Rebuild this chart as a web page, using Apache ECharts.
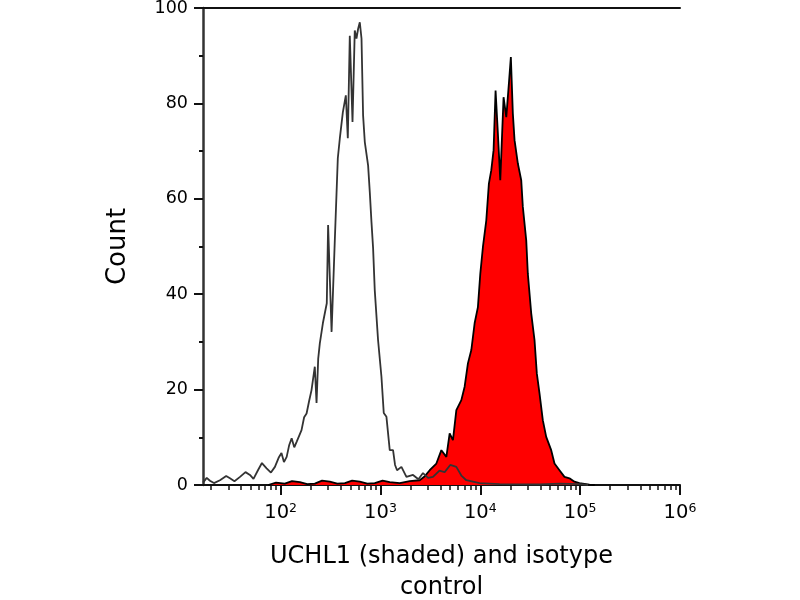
<!DOCTYPE html>
<html lang="en">
<head>
    <meta charset="UTF-8">
    <title>UCHL1 histogram</title>
    <script src="https://cdn.jsdelivr.net/npm/echarts@6/dist/echarts.min.js"></script>
</head>
<body style="margin:0">
<div id="echarts" style="width: 800px;height:600px"></div>
<script>
    var chartDom = document.getElementById('echarts');
    var myChart = echarts.init(chartDom);
    var option;

    // isotype control (outline only): [channel, count]
    var isotype = [
        [16.7, 0.5], [18.2, 1.5], [19.6, 0.9], [21.5, 0.4], [24.7, 1.0], [28.5, 1.9],
        [31.1, 1.4], [34.5, 0.8], [39.2, 1.7], [44.5, 2.7], [49.3, 2.1], [53.5, 1.3],
        [59.3, 3.1], [65, 4.6], [72.4, 3.5], [80, 2.6], [87.7, 3.8], [95.5, 5.7],
        [102, 6.7], [108, 4.8], [115, 5.9], [122, 8.4], [129, 9.8], [137, 7.9],
        [145, 9.1], [162, 11.5], [172, 14.2], [182, 15.0], [193, 17.6], [204, 19.9],
        [220, 24.8], [229, 17.2], [238, 26.5], [247, 29.7], [265, 33.9], [290, 38.1],
        [299, 54.5], [324, 32.1], [349, 51.3], [374, 68.5], [392, 72.7], [420, 78.1],
        [450, 81.7], [471, 72.7], [493, 94.2], [525, 76.1], [553, 95.3], [575, 93.6],
        [597, 95.6], [621, 97.0], [646, 93.6], [670, 77.5], [697, 71.9], [752, 67.0],
        [782, 61.4], [813, 55.1], [844, 49.6], [877, 40.8], [946, 30.4], [1023, 22.7],
        [1079, 15.1], [1148, 14.3], [1239, 7.3], [1337, 7.3], [1400, 4.2], [1466, 3.1],
        [1622, 3.8], [1820, 1.7], [2119, 2.1], [2400, 1.2], [2667, 2.5], [3000, 1.5],
        [3357, 1.7], [3900, 3.0], [4395, 2.7], [5000, 4.2], [5754, 3.8], [6501, 1.9],
        [7244, 1.0], [9840, 0.4], [15600, 0.2], [39170, 0.1], [62100, 0.3], [100000, 0.2],
        [120000, 0]
    ];

    // UCHL1 (shaded): [channel, count]
    var uchl1 = [
        [75, 0], [90, 0.5], [110, 0.3], [130, 0.8], [156, 0.6], [185, 0.2], [220, 0.3],
        [260, 0.9], [311, 0.7], [370, 0.3], [440, 0.4], [520, 0.9], [621, 0.7], [740, 0.3],
        [877, 0.4], [1050, 0.9], [1239, 0.6], [1560, 0.4], [1963, 0.8], [2472, 1.0],
        [2800, 1.9], [3112, 3.1], [3631, 4.5], [4074, 7.3], [4571, 5.9], [4932, 10.8],
        [5321, 9.4], [5754, 15.7], [6457, 17.8], [6966, 20.6], [7516, 25.5], [8128, 28.3],
        [8770, 33.9], [9462, 37.3], [10000, 44.3], [10620, 49.9], [11480, 55.5], [12190, 63.2],
        [12880, 66.0], [13580, 70.2], [14220, 82.7], [15000, 73.7], [15850, 63.9], [17100, 81.3],
        [18200, 77.1], [19320, 84.1], [20230, 89.7], [21190, 77.8], [22030, 72.3], [23770, 67.4],
        [25700, 63.9], [26670, 58.3], [28840, 51.3], [29920, 44.3], [32360, 36.0], [34910, 30.4],
        [36810, 23.4], [39170, 19.2], [42270, 13.6], [45710, 10.1], [51290, 7.3], [55340, 4.5],
        [62100, 3.1], [69670, 1.7], [78160, 1.4], [87700, 0.7], [98400, 0.4], [123900, 0.1],
        [140000, 0]
    ];

    // x axis ticks
    var xMajorTicks = [100, 1000, 10000, 100000, 1000000];
    var xTickExponents = ['2', '3', '4', '5', '6'];
    var xMinorTicks = [
        20, 30, 40, 50, 60, 70, 80, 90,
        200, 300, 400, 500, 600, 700, 800, 900,
        2000, 3000, 4000, 5000, 6000, 7000, 8000, 9000,
        20000, 30000, 40000, 50000, 60000, 70000, 80000, 90000,
        200000, 300000, 400000, 500000, 600000, 700000, 800000, 900000
    ];
    var xMin = 16.7, xMax = 1000000;
    var yMin = 0, yMax = 100, yStep = 20;

    var fontFamily = 'DejaVu Sans';

    option = {
        backgroundColor: '#ffffff',
        animation: false,
        grid: {
            left: 203,
            right: 120,
            top: 8,
            bottom: 115,
            outerBoundsMode: 'none'
        },
        xAxis: [{
            // main axis: line, major ticks, labels, name
            type: 'log',
            logBase: 10,
            min: xMin,
            max: xMax,
            position: 'bottom',
            name: 'UCHL1 (shaded) and isotype\ncontrol',
            nameLocation: 'middle',
            nameGap: 56,
            nameTextStyle: {
                fontFamily: fontFamily,
                fontSize: 24,
                lineHeight: 31,
                color: '#000'
            },
            axisLine: {
                lineStyle: { color: '#111', width: 2 }
            },
            axisTick: {
                show: true,
                length: 10,
                customValues: xMajorTicks,
                lineStyle: { color: '#111', width: 2 }
            },
            axisLabel: {
                customValues: xMajorTicks,
                margin: 17,
                formatter: function (v) {
                    var i = xMajorTicks.indexOf(v);
                    if (i < 0) {
                        for (var k = 0; k < xMajorTicks.length; k++) {
                            if (Math.abs(xMajorTicks[k] - v) / xMajorTicks[k] < 1e-6) i = k;
                        }
                    }
                    return '{b|10}{s|' + (i >= 0 ? xTickExponents[i] : '') + '}';
                },
                rich: {
                    b: { fontFamily: fontFamily, fontSize: 19.5, color: '#000', lineHeight: 22 },
                    s: { fontFamily: fontFamily, fontSize: 12.5, color: '#000', lineHeight: 22, verticalAlign: 'top', padding: [0, 0, 8, 0] }
                }
            },
            splitLine: { show: false }
        }, {
            // minor ticks only
            type: 'log',
            logBase: 10,
            min: xMin,
            max: xMax,
            position: 'bottom',
            axisLine: { show: false },
            axisTick: {
                show: true,
                length: 5,
                customValues: xMinorTicks,
                lineStyle: { color: '#111', width: 1.5 }
            },
            axisLabel: { show: false },
            splitLine: { show: false }
        }, {
            // top frame line
            type: 'log',
            logBase: 10,
            min: xMin,
            max: xMax,
            position: 'top',
            axisLine: { lineStyle: { color: '#111', width: 2 } },
            axisTick: { show: false },
            axisLabel: { show: false },
            splitLine: { show: false }
        }],
        yAxis: {
            type: 'value',
            min: yMin,
            max: yMax,
            interval: yStep,
            name: 'Count',
            nameLocation: 'middle',
            nameRotate: 90,
            nameGap: 72,
            nameTextStyle: {
                fontFamily: fontFamily,
                fontSize: 26,
                color: '#000'
            },
            axisLine: {
                show: true,
                lineStyle: { color: '#333', width: 2.5 }
            },
            axisTick: {
                show: true,
                length: 9,
                lineStyle: { color: '#111', width: 2 }
            },
            minorTick: {
                show: true,
                splitNumber: 2,
                length: 4,
                lineStyle: { color: '#111', width: 2 }
            },
            axisLabel: {
                margin: 15,
                fontFamily: fontFamily,
                fontSize: 17.5,
                color: '#000'
            },
            splitLine: { show: false }
        },
        series: [{
            name: 'UCHL1',
            type: 'line',
            xAxisIndex: 0,
            symbol: 'none',
            z: 2,
            lineStyle: { color: '#000', width: 1.8 },
            areaStyle: { color: '#ff0000', opacity: 1 },
            data: uchl1
        }, {
            name: 'Isotype control',
            type: 'line',
            xAxisIndex: 0,
            symbol: 'none',
            z: 3,
            lineStyle: { color: '#333', width: 1.8 },
            data: isotype
        }]
    };

    option && myChart.setOption(option);
</script>
</body>
</html>
